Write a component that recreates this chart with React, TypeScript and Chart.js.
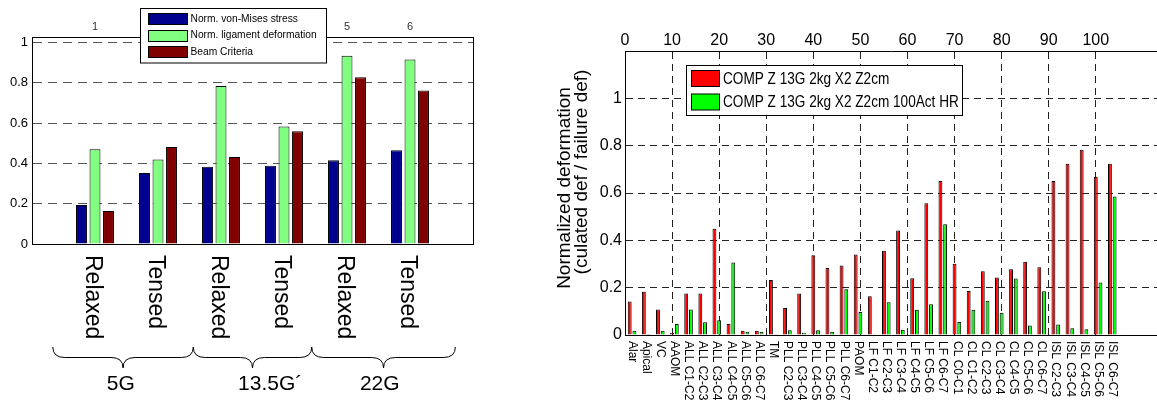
import React, { useEffect, useRef } from 'react';
import { Chart, registerables } from 'chart.js';

Chart.register(...registerables);

const FONT = '"Liberation Sans", Arial, Helvetica, sans-serif';
const CLEAR = 'rgba(0,0,0,0)';

// ---------- Left chart data ----------
const leftGroups = [1, 2, 3, 4, 5, 6];
const leftGroupLabels = ['Relaxed', 'Tensed', 'Relaxed', 'Tensed', 'Relaxed', 'Tensed'];
const vonMisesValues = [0.194, 0.353, 0.384, 0.389, 0.416, 0.465];
const ligamentValues = [0.47, 0.42, 0.785, 0.583, 0.935, 0.916];
const beamValues = [0.164, 0.482, 0.432, 0.56, 0.828, 0.762];
const leftSeriesNames = ['Norm. von-Mises stress', 'Norm. ligament deformation', 'Beam Criteria'];
const leftSeriesColors = ['#00008F', '#80FF80', '#800000'];
const braceLabels = ['5G', '13.5G\u00B4', '22G'];
const braceStarts = [0.33, 2.56, 4.44];
const braceEnds = [2.56, 4.44, 6.72];
const braceLabelCenters = [1.41, 3.78, 5.52];

// ---------- Right chart data ----------
const ligamentNames = [
  'Alar', 'Apical', 'VC', 'AAOM',
  'ALL C1-C2', 'ALL C2-C3', 'ALL C3-C4', 'ALL C4-C5', 'ALL C5-C6', 'ALL C6-C7',
  'TM',
  'PLL C2-C3', 'PLL C3-C4', 'PLL C4-C5', 'PLL C5-C6', 'PLL C6-C7',
  'PAOM',
  'LF C1-C2', 'LF C2-C3', 'LF C3-C4', 'LF C4-C5', 'LF C5-C6', 'LF C6-C7',
  'CL C0-C1', 'CL C1-C2', 'CL C2-C3', 'CL C3-C4', 'CL C4-C5', 'CL C5-C6', 'CL C6-C7',
  'ISL C2-C3', 'ISL C3-C4', 'ISL C4-C5', 'ISL C5-C6', 'ISL C6-C7',
];
const compValues = [
  0.142, 0.183, 0.108, 0.01,
  0.175, 0.175, 0.449, 0.046, 0.018, 0.018,
  0.232,
  0.114, 0.175, 0.337, 0.283, 0.294,
  0.34,
  0.164, 0.356, 0.442, 0.24, 0.557, 0.651,
  0.301, 0.186, 0.269, 0.243, 0.278, 0.31, 0.286,
  0.651, 0.724, 0.783, 0.669, 0.724,
];
const compHRValues = [
  0.018, 0.004, 0.018, 0.046,
  0.108, 0.054, 0.062, 0.306, 0.014, 0.014,
  0.003,
  0.02, 0.01, 0.02, 0.014, 0.193,
  0.097,
  0.003, 0.138, 0.022, 0.107, 0.13, 0.468,
  0.055, 0.107, 0.145, 0.094, 0.239, 0.04, 0.185,
  0.044, 0.028, 0.024, 0.222, 0.585,
];
const rightSeriesNames = ['COMP Z 13G 2kg X2 Z2cm', 'COMP Z 13G 2kg X2 Z2cm 100Act HR'];
const rightSeriesColors = ['#FF0000', '#00FF00'];
const rightYTitle = ['Normalized deformation', '(culated def / failure def)'];
const categoryPosition = (i: number) => 3 * i + 1.5;

const fmtTick = (v: number) => (Math.abs(v) < 1e-9 ? '0' : String(+v.toFixed(1)));

// ---------- Left chart plugin ----------
const leftDecor = {
  id: 'leftDecor',
  afterDraw(chart: any) {
    const { ctx, chartArea: a, scales } = chart;
    const xs = scales.x;
    ctx.save();
    // right frame
    ctx.strokeStyle = '#000';
    ctx.lineWidth = 1;
    ctx.beginPath();
    const rx = Math.round(a.right) + 0.5;
    ctx.moveTo(rx, a.top);
    ctx.lineTo(rx, a.bottom);
    ctx.stroke();

    // rotated group labels
    ctx.fillStyle = '#000';
    ctx.font = `23px ${FONT}`;
    ctx.textAlign = 'left';
    ctx.textBaseline = 'middle';
    leftGroups.forEach((g, i) => {
      const x = xs.getPixelForValue(g);
      ctx.save();
      ctx.translate(x - 3, a.bottom + 11);
      ctx.rotate(Math.PI / 2);
      ctx.fillText(leftGroupLabels[i], 0, 0);
      ctx.restore();
    });

    // braces
    const yTop = 347, yMid = 357.5, yBot = 368;
    ctx.lineWidth = 1;
    braceStarts.forEach((s, i) => {
      const x1 = xs.getPixelForValue(s);
      const x2 = xs.getPixelForValue(braceEnds[i]);
      const xm = (x1 + x2) / 2;
      const r = 12;
      ctx.beginPath();
      ctx.moveTo(x1, yTop);
      ctx.quadraticCurveTo(x1, yMid, x1 + r, yMid);
      ctx.lineTo(xm - r, yMid);
      ctx.quadraticCurveTo(xm, yMid, xm, yBot);
      ctx.quadraticCurveTo(xm, yMid, xm + r, yMid);
      ctx.lineTo(x2 - r, yMid);
      ctx.quadraticCurveTo(x2, yMid, x2, yTop);
      ctx.stroke();
    });
    ctx.font = `21px ${FONT}`;
    ctx.textAlign = 'center';
    braceLabels.forEach((t, i) => {
      ctx.fillText(t, xs.getPixelForValue(braceLabelCenters[i]), 384);
    });

    // legend
    ctx.fillStyle = '#fff';
    ctx.fillRect(140.5, 8.5, 186, 54.5);
    ctx.strokeStyle = '#000';
    ctx.strokeRect(140.5, 8.5, 186, 54.5);
    ctx.textAlign = 'left';
    ctx.textBaseline = 'middle';
    leftSeriesNames.forEach((name, i) => {
      const cy = 18.5 + i * 16.6;
      ctx.fillStyle = leftSeriesColors[i];
      ctx.fillRect(148.5, Math.round(cy - 5.5) + 0.5, 39, 11);
      ctx.strokeStyle = '#000';
      ctx.strokeRect(148.5, Math.round(cy - 5.5) + 0.5, 39, 11);
      ctx.fillStyle = '#000';
      ctx.save();
      ctx.translate(190.5, cy);
      ctx.scale(0.93, 1);
      ctx.font = `11px ${FONT}`;
      ctx.fillText(name, 0, 0);
      ctx.restore();
    });
    ctx.restore();
  },
};

// ---------- Right chart plugin ----------
const rightDecor = {
  id: 'rightDecor',
  afterDraw(chart: any) {
    const { ctx, chartArea: a, scales } = chart;
    const xs = scales.x;
    ctx.save();
    ctx.fillStyle = '#000';

    // y title (two lines, rotated)
    ctx.font = `19px ${FONT}`;
    ctx.textAlign = 'center';
    ctx.textBaseline = 'middle';
    const titleX = [60, 77];
    const titleY = [188, 172];
    rightYTitle.forEach((t, i) => {
      ctx.save();
      ctx.translate(titleX[i], titleY[i]);
      ctx.rotate(-Math.PI / 2);
      ctx.fillText(t, 0, 0);
      ctx.restore();
    });

    // category labels
    ctx.font = `12px ${FONT}`;
    ctx.textAlign = 'left';
    ctx.textBaseline = 'middle';
    ligamentNames.forEach((name, i) => {
      const x = xs.getPixelForValue(categoryPosition(i));
      ctx.save();
      ctx.translate(x, a.bottom + 6);
      ctx.rotate(Math.PI / 2);
      ctx.fillText(name, 0, 0);
      ctx.restore();
    });

    // legend
    const lx = 181.5, ly = 65.5, lw = 276, lh = 50;
    ctx.fillStyle = '#fff';
    ctx.fillRect(lx, ly, lw, lh);
    ctx.strokeStyle = '#000';
    ctx.lineWidth = 1;
    ctx.strokeRect(lx, ly, lw, lh);
    rightSeriesNames.forEach((name, i) => {
      const sy = 70.5 + i * 23.5;
      ctx.fillStyle = rightSeriesColors[i];
      ctx.fillRect(186.5, sy, 28, 16);
      ctx.strokeStyle = '#000';
      ctx.strokeRect(186.5, sy, 28, 16);
      ctx.fillStyle = '#000';
      ctx.save();
      ctx.translate(218, sy + 8.5);
      ctx.scale(0.8, 1);
      ctx.font = `17px ${FONT}`;
      ctx.textAlign = 'left';
      ctx.textBaseline = 'middle';
      ctx.fillText(name, 0, 0);
      ctx.restore();
    });
    ctx.restore();
  },
};

function leftConfig(): any {
  const series = [vonMisesValues, ligamentValues, beamValues];
  return {
    type: 'bar',
    data: {
      datasets: series.map((vals, k) => ({
        label: leftSeriesNames[k],
        data: leftGroups.map((g, i) => ({ x: g, y: vals[i] })),
        backgroundColor: leftSeriesColors[k],
        borderColor: '#000',
        borderWidth: 1,
        categoryPercentage: 0.643,
        barPercentage: 0.81,
      })),
    },
    options: {
      animation: false,
      responsive: false,
      devicePixelRatio: 1,
      events: [],
      layout: { padding: { left: 0, right: 27, top: 0, bottom: 0 } },
      plugins: { legend: { display: false }, tooltip: { enabled: false } },
      scales: {
        x: {
          type: 'linear',
          position: 'bottom',
          min: 0,
          max: 7,
          offset: false,
          grid: { display: false, drawTicks: false, offset: false },
          border: { display: true, color: '#000', width: 1 },
          ticks: { display: false, stepSize: 1 },
          afterFit(s: any) { s.height = 157; },
        },
        xTop: {
          type: 'linear',
          position: 'top',
          min: 0,
          max: 7,
          offset: false,
          grid: { display: false, drawTicks: false, offset: false },
          border: { display: true, color: '#000', width: 1 },
          ticks: {
            stepSize: 1,
            autoSkip: false,
            maxRotation: 0,
            padding: 3,
            color: '#333',
            font: { family: FONT, size: 11 },
            callback: (v: number) => (v >= 1 && v <= 6 ? String(v) : ''),
          },
          afterFit(s: any) { s.height = 37; },
        },
        y: {
          min: 0,
          max: 1.028,
          ticks: {
            stepSize: 0.2,
            includeBounds: false,
            padding: 4,
            color: '#000',
            font: { family: FONT, size: 13 },
            callback: (v: number) => fmtTick(v),
          },
          grid: {
            drawTicks: false,
            lineWidth: 1,
            color: (c: any) => (c.tick && c.tick.value > 0.01 && c.tick.value < 1.01 ? '#555' : CLEAR),
          },
          border: { display: true, color: '#000', width: 1, dash: [9, 6] },
          afterFit(s: any) { s.width = 32; },
        },
      },
    },
    plugins: [leftDecor],
  };
}

function rightConfig(): any {
  const series = [compValues, compHRValues];
  return {
    type: 'bar',
    data: {
      datasets: series.map((vals, k) => ({
        label: rightSeriesNames[k],
        data: ligamentNames.map((_, i) => ({ x: categoryPosition(i), y: vals[i] })),
        backgroundColor: rightSeriesColors[k],
        borderColor: '#000',
        borderWidth: 1,
        categoryPercentage: 2 / 3,
        barPercentage: 0.82,
      })),
    },
    options: {
      animation: false,
      responsive: false,
      devicePixelRatio: 1,
      events: [],
      layout: { padding: 0 },
      plugins: { legend: { display: false }, tooltip: { enabled: false } },
      scales: {
        x: {
          type: 'linear',
          position: 'bottom',
          min: 0,
          max: 113,
          offset: false,
          grid: { display: false, drawTicks: false, offset: false },
          border: { display: true, color: '#000', width: 1 },
          ticks: { display: false, stepSize: 30 },
          afterFit(s: any) { s.height = 66; },
        },
        xTop: {
          type: 'linear',
          position: 'top',
          min: 0,
          max: 113,
          offset: false,
          grid: {
            drawTicks: false,
            offset: false,
            lineWidth: 1,
            color: (c: any) => (c.tick && c.tick.value > 0.5 && c.tick.value < 100.5 ? '#222' : CLEAR),
          },
          border: { display: true, color: '#000', width: 1, dash: [7, 5] },
          ticks: {
            stepSize: 10,
            includeBounds: false,
            autoSkip: false,
            maxRotation: 0,
            padding: 1,
            color: '#000',
            font: { family: FONT, size: 16 },
            callback: (v: number) => (v <= 100 ? String(v) : ''),
          },
          afterFit(s: any) { s.height = 51; },
        },
        y: {
          min: 0,
          max: 1.2,
          ticks: {
            stepSize: 0.2,
            includeBounds: false,
            padding: 3,
            color: '#000',
            font: { family: FONT, size: 16 },
            callback: (v: number) => (v <= 1.0001 ? fmtTick(v) : ''),
          },
          grid: {
            drawTicks: false,
            lineWidth: 1,
            color: (c: any) => (c.tick && c.tick.value > 0.01 && c.tick.value < 1.1 ? '#222' : CLEAR),
          },
          border: { display: true, color: '#000', width: 1, dash: [7, 5] },
          afterFit(s: any) { s.width = 120; },
        },
      },
    },
    plugins: [rightDecor],
  };
}

export default function App() {
  const leftRef = useRef<HTMLCanvasElement>(null);
  const rightRef = useRef<HTMLCanvasElement>(null);

  useEffect(() => {
    Chart.defaults.font.family = FONT;
    const c1 = new Chart(leftRef.current as HTMLCanvasElement, leftConfig());
    const c2 = new Chart(rightRef.current as HTMLCanvasElement, rightConfig());
    return () => {
      c1.destroy();
      c2.destroy();
    };
  }, []);

  return (
    <div
      style={{
        position: 'fixed',
        left: 0,
        top: 0,
        width: 1157,
        height: 401,
        background: '#fff',
        overflow: 'hidden',
      }}
    >
      <canvas
        ref={leftRef}
        width={500}
        height={401}
        style={{ position: 'absolute', left: 0, top: 0, width: 500, height: 401 }}
      />
      <canvas
        ref={rightRef}
        width={652}
        height={401}
        style={{ position: 'absolute', left: 505, top: 0, width: 652, height: 401 }}
      />
    </div>
  );
}
